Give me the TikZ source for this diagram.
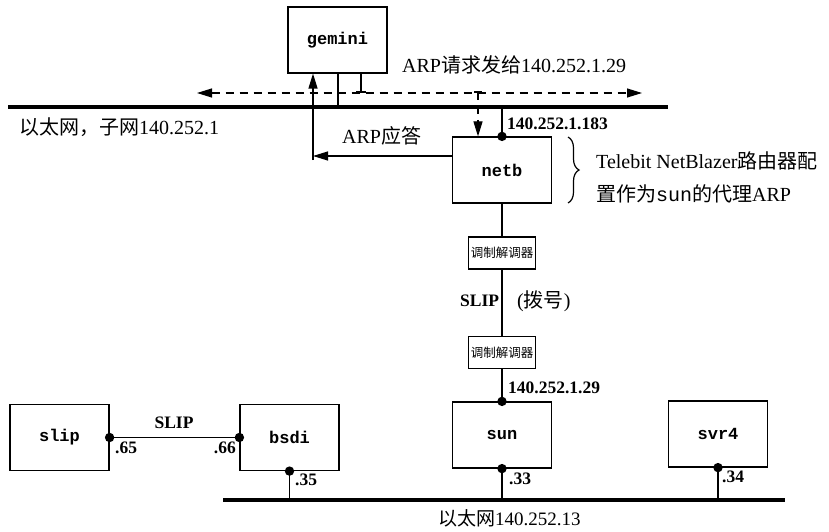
\documentclass[tikz,border=0pt]{standalone}
\usepackage{fontspec}
\setmainfont{Liberation Serif}
\newfontfamily\cjk{Noto Sans CJK SC}
\newfontfamily\mono{Liberation Mono}
\usetikzlibrary{arrows.meta,decorations.pathreplacing}
\tikzset{
  host/.style={draw, line width=1.2pt, minimum width=99pt, minimum height=66pt, inner sep=0pt,
    font=\mono\bfseries\fontsize{17}{20}\selectfont},
  modem/.style={draw, line width=1.2pt, minimum width=67pt, minimum height=32pt, inner sep=0pt,
    font=\cjk\fontsize{12.5}{14}\selectfont},
  lbl/.style={inner sep=0pt, anchor=west, font=\fontsize{20}{24}\selectfont},
  blbl/.style={inner sep=0pt, anchor=west, font=\bfseries\fontsize{17.5}{20}\selectfont},
  wire/.style={line width=1.2pt},
  eth/.style={line width=4pt},
  dsh/.style={line width=1.2pt, dash pattern=on 8pt off 6pt},
  tip/.style={-{Triangle[length=15pt,width=9pt]}},
  dot/.style={fill=black},
}
\begin{document}
\begin{tikzpicture}[x=1pt,y=-1pt]
\useasboundingbox (0,0) rectangle (829,532);
% hosts
\node[host] (gemini) at (337.5,40) {gemini};
\node[host] (netb) at (502,170) {netb};
\node[modem] (m1) at (502,253) {调制解调器};
\node[modem] (m2) at (502,352.5) {调制解调器};
\node[host] (sun) at (502,435) {sun};
\node[host] (svr4) at (718,434) {svr4};
\node[host] (slip) at (59.5,437.5) {slip};
\node[host] (bsdi) at (289.5,437.5) {bsdi};
% ethernets
\coordinate (e1L) at (8,107);
\coordinate (e1R) at (668,107);
\coordinate (e2L) at (223,500);
\coordinate (e2R) at (785,500);
\draw[eth] (e1L) -- (e1R);
\draw[eth] (e2L) -- (e2R);
% gemini tap
\coordinate (gtap) at (338,107);
\draw[wire] (gtap |- gemini.south) -- (gtap);
% netb tap
\draw[wire] (netb.north) -- (netb.north |- e1L);
% dashed ARP request
\coordinate (dL) at (197,93);
\coordinate (dR) at (642,93);
\draw[dsh,{Triangle[length=15pt,width=9pt]}-{Triangle[length=15pt,width=9pt]}] (dL) -- (dR);
\coordinate (gstub) at (361,92);
\draw[wire] (gstub |- gemini.south) -- (gstub);
\draw[wire] ([xshift=-5pt]gstub) -- ([xshift=5pt]gstub);
\coordinate (ntap) at (478,92);
\draw[wire] ([xshift=-4pt]ntap) -- ([xshift=4pt]ntap);
\draw[dsh,tip] (ntap) -- (ntap |- netb.north);
% ARP reply
\coordinate (rc) at (313,156);
\draw[wire,tip] (netb.west |- rc) -- (rc);
\draw[wire,tip] ([yshift=-4pt]rc) -- (rc |- gemini.south);
% SLIP dial-up chain
\draw[wire] (netb.south) -- (m1.north);
\draw[wire] (m1.south) -- (m2.north);
\draw[wire] (m2.south) -- (sun.north);
% bottom network
\draw[wire] (slip.east) -- (bsdi.west);
\draw[wire] (bsdi.south) -- (bsdi.south |- e2L);
\draw[wire] (sun.south) -- (sun.south |- e2L);
\draw[wire] (svr4.south) -- (svr4.south |- e2L);
% dots
\foreach \p in {netb.north, sun.north, sun.south, svr4.south, bsdi.south, bsdi.west, slip.east}
  \fill[dot] (\p) circle[radius=4.7pt];
% brace
\draw[line width=1.2pt, decorate, decoration={brace, amplitude=11pt}] (568,137) -- (568,203);
% labels
\node[lbl] (t1) at (402,65) {ARP{\cjk 请求发给}140.252.1.29};
\node[lbl] (t2) at (19,127) {{\cjk 以太网，子网}140.252.1};
\node[lbl] (t3) at (342,136) {ARP{\cjk 应答}};
\node[blbl] (t4) at (507,124) {140.252.1.183};
\node[lbl] (t5) at (596,161) {Telebit NetBlazer{\cjk 路由器配}};
\node[lbl] (t6) at (596,194) {{\cjk 置作为}{\mono sun}{\cjk 的代理}ARP};
\node[blbl] (t7) at (460,301) {SLIP};
\node[lbl] (t8) at (517,301) {({\cjk 拨号})};
\node[blbl] (t9) at (508,388) {140.252.1.29};
\node[blbl, anchor=center] (t10) at (174,423) {SLIP};
\node[blbl] (t11) at (115,448) {.65};
\node[blbl, anchor=east] (t12) at (236,448) {.66};
\node[blbl] (t13) at (295,480) {.35};
\node[blbl] (t14) at (509,479) {.33};
\node[blbl] (t15) at (722,477) {.34};
\node[lbl, font=\fontsize{19}{22}\selectfont] (t16) at (438,518) {{\cjk 以太网}140.252.13};
\end{tikzpicture}
\end{document}
